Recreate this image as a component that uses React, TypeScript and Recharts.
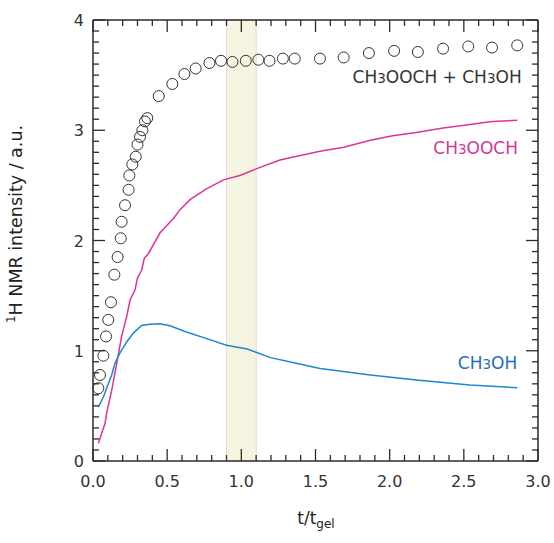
import { ComposedChart, Line, Scatter, XAxis, YAxis, ReferenceArea, ReferenceDot } from "recharts";

// total signal (open circles)
const totalT = [0.036, 0.047, 0.07, 0.088, 0.103, 0.121, 0.144, 0.166, 0.187, 0.193, 0.216, 0.24, 0.245, 0.265, 0.288, 0.3, 0.317, 0.333, 0.35, 0.366, 0.443, 0.535, 0.616, 0.692, 0.785, 0.863, 0.94, 1.03, 1.115, 1.19, 1.28, 1.36, 1.53, 1.69, 1.86, 2.03, 2.19, 2.36, 2.53, 2.69, 2.86];
const totalV = [0.66, 0.78, 0.955, 1.13, 1.28, 1.44, 1.69, 1.85, 2.02, 2.17, 2.32, 2.46, 2.59, 2.69, 2.76, 2.87, 2.94, 3.0, 3.08, 3.11, 3.31, 3.42, 3.51, 3.56, 3.61, 3.63, 3.62, 3.63, 3.64, 3.63, 3.65, 3.65, 3.65, 3.66, 3.7, 3.72, 3.71, 3.74, 3.76, 3.75, 3.77];

// methyl formate
const esterT = [0.036, 0.058, 0.081, 0.092, 0.126, 0.16, 0.193, 0.227, 0.25, 0.283, 0.3, 0.328, 0.346, 0.373, 0.452, 0.542, 0.587, 0.654, 0.767, 0.88, 0.99, 1.1, 1.26, 1.53, 1.69, 1.87, 2.02, 2.18, 2.36, 2.53, 2.69, 2.86];
const esterV = [0.16, 0.25, 0.34, 0.435, 0.64, 0.886, 1.13, 1.31, 1.46, 1.55, 1.66, 1.73, 1.84, 1.88, 2.07, 2.2, 2.28, 2.37, 2.47, 2.55, 2.59, 2.65, 2.73, 2.81, 2.845, 2.91, 2.95, 2.98, 3.02, 3.05, 3.08, 3.09];

// methanol
const methT = [0.036, 0.07, 0.092, 0.126, 0.148, 0.182, 0.227, 0.272, 0.328, 0.384, 0.452, 0.519, 0.63, 0.767, 0.9, 1.04, 1.1, 1.19, 1.37, 1.53, 1.87, 2.18, 2.54, 2.86];
const methV = [0.49, 0.58, 0.66, 0.78, 0.886, 0.98, 1.08, 1.16, 1.23, 1.24, 1.245, 1.227, 1.17, 1.11, 1.05, 1.016, 0.986, 0.94, 0.886, 0.84, 0.78, 0.735, 0.69, 0.665];

const gelWindow = [0.9, 1.1];
const xDomain = [0, 3];
const yDomain = [0, 4];

// labelled ticks, plus small ticks every 0.1
const xMajor = [0, 0.5, 1, 1.5, 2, 2.5, 3];
const yMajor = [0, 1, 2, 3, 4];
const xMinor = Array.from({ length: 31 }, (_, i) => i / 10);
const yMinor = Array.from({ length: 41 }, (_, i) => i / 10);

const zip = (t: number[], v: number[]) => t.map((x, i) => ({ t: x, v: v[i] }));
const totalData = zip(totalT, totalV);
const esterData = zip(esterT, esterV);
const methData = zip(methT, methV);

const INK = "#2b2b2b";
const FONT = "'DejaVu Sans', sans-serif";
const onStep = (v: number, step: number) => Math.abs(v / step - Math.round(v / step)) < 1e-6;

// inward tick marks on the four sides of the frame, placed through the axis scales
const frameTicks = [
  ...xMinor.map((t) => ({ t, v: yDomain[0], side: "bottom", major: onStep(t, 0.5) })),
  ...xMinor.map((t) => ({ t, v: yDomain[1], side: "top", major: onStep(t, 0.5) })),
  ...yMinor.map((v) => ({ t: xDomain[0], v, side: "left", major: onStep(v, 1) })),
  ...yMinor.map((v) => ({ t: xDomain[1], v, side: "right", major: onStep(v, 1) })),
];

const TickMark = ({ cx, cy, payload }: any) => {
  const len = payload.major ? 12 : 6;
  const d =
    payload.side === "bottom" ? `M${cx},${cy}v${-len}` :
    payload.side === "top" ? `M${cx},${cy}v${len}` :
    payload.side === "left" ? `M${cx},${cy}h${len}` :
    `M${cx},${cy}h${-len}`;
  return <path d={d} stroke={INK} strokeWidth={1.3} fill="none" />;
};

const bottomLabel = ({ x, y, payload }: any) => (
  <text x={x} y={y + 26} textAnchor="middle" fontSize={16} fontFamily={FONT} fill="#333">
    {payload.value.toFixed(1)}
  </text>
);

const leftLabel = ({ x, y, payload }: any) => (
  <text x={x - 9} y={y + 6} textAnchor="end" fontSize={16} fontFamily={FONT} fill="#333">
    {payload.value}
  </text>
);

const Ring = ({ cx, cy }: any) => <circle cx={cx} cy={cy} r={5.5} fill="none" stroke="#333" strokeWidth={1} />;

const seriesLabel = (parts: string[], color: string) => ({ cx, cy }: any) => (
  <text x={cx} y={cy + 6} textAnchor="end" fontSize={17} fontFamily={FONT} fill={color}>
    {parts.map((p, i) =>
      p === "3" ? (
        <tspan key={i} fontSize={13.5}>3</tspan>
      ) : (
        <tspan key={i}>{p}</tspan>
      )
    )}
  </text>
);

const xTitle = () => (
  <text x={316} y={524} textAnchor="middle" fontSize={17} fontFamily={FONT} fill="#222">
    t/t<tspan fontSize={12} dy={4}>gel</tspan>
  </text>
);

const yTitle = () => (
  <text x={22} y={224} transform="rotate(-90 22 224)" textAnchor="middle" fontSize={17.5} fontFamily={FONT} fill="#222">
    <tspan fontSize={12} dy={-7}>1</tspan>
    <tspan dy={7}>H NMR intensity / a.u.</tspan>
  </text>
);

export default function App() {
  return (
    <div style={{ position: "absolute", left: 0, top: 0 }}>
      <ComposedChart width={554} height={543} margin={{ top: 19, right: 15, bottom: 81, left: 0 }}>
        <ReferenceArea xAxisId="b" yAxisId="l" x1={gelWindow[0]} x2={gelWindow[1]} fill="#f5f4e1" fillOpacity={1} stroke="#ecd6d6" strokeWidth={1} />
        <Line xAxisId="b" yAxisId="l" data={esterData} dataKey="v" type="linear" stroke="#d9359a" strokeWidth={1.5} dot={false} isAnimationActive={false} />
        <Line xAxisId="b" yAxisId="l" data={methData} dataKey="v" type="linear" stroke="#1d87cf" strokeWidth={1.5} dot={false} isAnimationActive={false} />
        <Scatter xAxisId="b" yAxisId="l" data={totalData} dataKey="v" shape={<Ring />} isAnimationActive={false} />
        <Scatter xAxisId="b" yAxisId="l" data={frameTicks} dataKey="v" shape={<TickMark />} isAnimationActive={false} />
        {/* the mirrored frame axes need a series to be laid out */}
        <Line xAxisId="top" yAxisId="r" data={totalData} dataKey="v" stroke="none" dot={false} activeDot={false} isAnimationActive={false} />
        <ReferenceDot xAxisId="b" yAxisId="l" x={2.89} y={3.486} r={0} shape={seriesLabel(["CH", "3", "OOCH + CH", "3", "OH"], "#333")} />
        <ReferenceDot xAxisId="b" yAxisId="l" x={2.865} y={2.84} r={0} shape={seriesLabel(["CH", "3", "OOCH"], "#cf3a97")} />
        <ReferenceDot xAxisId="b" yAxisId="l" x={2.86} y={0.89} r={0} shape={seriesLabel(["CH", "3", "OH"], "#2a6db5")} />
        <XAxis xAxisId="b" dataKey="t" type="number" domain={xDomain} ticks={xMajor} interval={0} height={1} tickSize={0} tickMargin={0} tickLine={false} tick={bottomLabel} axisLine={{ stroke: INK, strokeWidth: 1.5 }} label={{ content: xTitle }} />
        <XAxis xAxisId="top" orientation="top" dataKey="t" type="number" domain={xDomain} ticks={xMajor} height={1} tickLine={false} tick={false} axisLine={{ stroke: INK, strokeWidth: 1.5 }} />
        <YAxis yAxisId="l" type="number" domain={yDomain} ticks={yMajor} interval={0} width={93} tickSize={0} tickMargin={0} tickLine={false} tick={leftLabel} axisLine={{ stroke: INK, strokeWidth: 1.5 }} label={{ content: yTitle }} />
        <YAxis yAxisId="r" orientation="right" type="number" domain={yDomain} ticks={yMajor} width={1} tickLine={false} tick={false} axisLine={{ stroke: INK, strokeWidth: 1.5 }} />
      </ComposedChart>
    </div>
  );
}
